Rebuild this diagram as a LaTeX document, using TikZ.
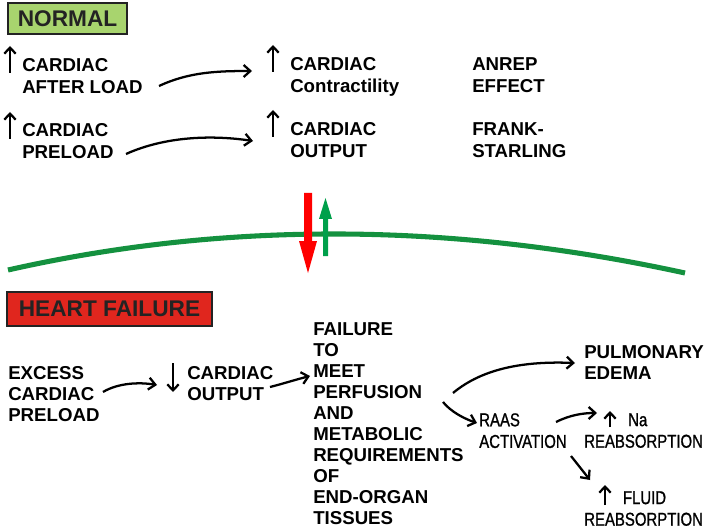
\documentclass[tikz,border=0pt]{standalone}
\usepackage{fontspec}
\setmainfont{Liberation Sans}
\newfontfamily\narrowfont[FakeStretch=0.8,FakeBold=1]{Liberation Sans}
\usetikzlibrary{arrows.meta}

\definecolor{normalgreen}{RGB}{168,212,110}
\definecolor{failred}{RGB}{224,38,30}
\definecolor{linegreen}{RGB}{20,145,63}
\definecolor{upgreen}{RGB}{0,160,75}
\definecolor{boxedge}{RGB}{35,35,35}

\tikzset{
  txt/.style={font=\bfseries\fontsize{14}{16.5}\selectfont, align=left, inner sep=0pt, anchor=north west},
  lowtxt/.style={font=\bfseries\fontsize{14}{15.8}\selectfont, align=left, inner sep=0pt, anchor=north west},
  thintxt/.style={font=\narrowfont\fontsize{14}{16.2}\selectfont, align=left, inner sep=0pt, anchor=north west},
  tag/.style={draw=boxedge, line width=1.5pt, font=\bfseries\fontsize{17}{20}\selectfont, text=boxedge, inner sep=0pt},
  link/.style={line width=1.7pt, -{Straight Barb[length=5pt,width=9pt]}},
  updown/.style={line width=1.7pt, -{Straight Barb[length=4.5pt,width=8.5pt]}}
}

\begin{document}
\begin{tikzpicture}[x=0.75pt, y=-0.75pt] % one unit = one pixel of the reference

    \useasboundingbox (0,0) rectangle (708,528);

    % Title boxes
    \node[tag, fill=normalgreen, minimum width=89.25pt, minimum height=23.25pt] (normal) at (67.5,18.5) {NORMAL};
    \node[tag, fill=failred, minimum width=153.75pt, minimum height=25.5pt] (failbox) at (109.5,309) {HEART FAILURE};

    % Normal part
    \node[txt] (afterload) at (22,58) {CARDIAC\\AFTER LOAD};
    \node[txt] (preload) at (22,123) {CARDIAC\\PRELOAD};
    \node[txt] (contract) at (290,57) {CARDIAC\\Contractility};
    \node[txt] (output) at (290,122) {CARDIAC\\OUTPUT};
    \node[txt] (anrep) at (472,57) {ANREP\\EFFECT};
    \node[txt] (frank) at (472,122) {FRANK-\\STARLING};

    \draw[updown] (10,73) -- (10,46);
    \draw[updown] (10,139) -- (10,112);
    \draw[updown] (273,72) -- (273,45);
    \draw[updown] (273,137) -- (273,110);

    \draw[link] ([shift={(137,28)}]afterload.north west) .. controls +(30,-14) and +(-35,0) .. ([shift={(-38,14)}]contract.north west);
    \draw[link] ([shift={(104,31)}]preload.north west) .. controls +(40,-18) and +(-40,-6) .. ([shift={(-37,19)}]output.north west);

    % Curve with the two arrows
    \draw[linegreen, line width=3.8pt] (8,270) .. controls (225,221) and (451,222) .. (685,273);
    \fill[red] (304,193) -- (312,193) -- (312,241) -- (317,241) -- (308,273) -- (299,241) -- (304,241) -- cycle;
    \fill[upgreen] (323,256) -- (328,256) -- (328,219) -- (332,219) -- (325.5,198) -- (319,219) -- (323,219) -- cycle;

    % Heart failure part
    \node[lowtxt] (excess) at (8,366) {EXCESS\\CARDIAC\\PRELOAD};
    \node[lowtxt] (lowout) at (187,366) {CARDIAC\\OUTPUT};
    \node[lowtxt] (failure) at (313,322) {FAILURE\\TO\\MEET\\PERFUSION\\AND\\METABOLIC\\REQUIREMENTS\\OF\\END-ORGAN\\TISSUES};
    \node[lowtxt] (pulm) at (584,345) {PULMONARY\\EDEMA};
    \node[thintxt] (raas) at (479,413) {RAAS\\ACTIVATION};
    \node[thintxt] (na) at (584,413) {\hspace*{33pt}Na\\REABSORPTION};
    \node[thintxt] (fluid) at (584,491) {\hspace*{29pt}FLUID\\REABSORPTION};

    \draw[updown] (173,363) -- (173,392);
    \draw[updown] (610,427) -- (610,411);
    \draw[updown] (605,505) -- (605,485);

    \draw[link] ([shift={(95,26)}]excess.north west) .. controls +(15,-9) and +(-18,-3) .. ([shift={(-30,19)}]lowout.north west);
    \draw[link] ([shift={(83,21)}]lowout.north west) .. controls +(12,-3) and +(-12,3) .. ([shift={(-3,54)}]failure.north west);
    \draw[link] ([shift={(140,71)}]failure.north west) .. controls +(30,-25) and +(-50,-2) .. ([shift={(-9,18)}]pulm.north west);
    \draw[link] ([shift={(130,80)}]failure.north west) .. controls +(8,10) and +(-12,-4) .. ([shift={(-2,10)}]raas.north west);
    \draw[link] ([shift={(77,9)}]raas.north west) .. controls +(14,-7) and +(-14,0) .. ([shift={(13,0)}]na.north west);
    \draw[link] ([shift={(92,43)}]raas.north west) -- ([shift={(6,-11)}]fluid.north west);

\end{tikzpicture}
\end{document}
